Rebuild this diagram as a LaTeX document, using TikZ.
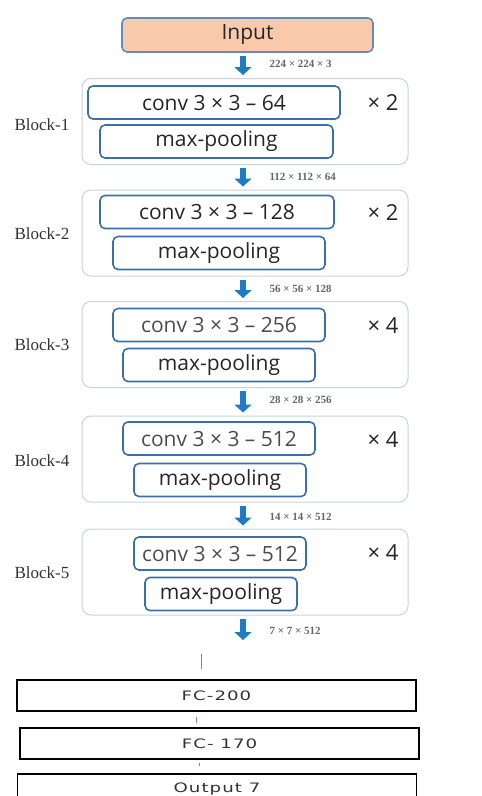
\documentclass[tikz,border=0pt]{standalone}
\usepackage{fontspec}
\setmainfont{Liberation Serif}
\setsansfont{Open Sans}
\newfontfamily\fcfont{DejaVu Sans}[FakeStretch=1.4, LetterSpace=8]
\usetikzlibrary{arrows.meta}

\definecolor{boxblue}{HTML}{3B6FA8}
\definecolor{blockgray}{HTML}{C8D2DE}
\definecolor{inputfill}{HTML}{F8C9AA}
\definecolor{arrowblue}{HTML}{1E7CC6}
\definecolor{linkblue}{HTML}{5B8FD0}

\tikzset{
  block/.style={draw=blockgray, line width=1pt, rounded corners=9pt,
    minimum width=326pt, minimum height=86pt},
  layer/.style={draw=boxblue, line width=1.6pt, rounded corners=5pt,
    inner sep=0pt, minimum height=33pt, text=black!85,
    font=\sffamily\fontsize{21}{21}\selectfont},
  flow/.style={arrowblue, line width=6pt, -{Triangle[width=17pt,length=8pt]}},
  dims/.style={anchor=west, text=black!60, font=\bfseries\fontsize{11}{11}\selectfont},
  reps/.style={text=black!85, font=\sffamily\fontsize{22}{22}\selectfont},
  blockname/.style={text=black!80, font=\fontsize{17}{17}\selectfont},
  fc/.style={draw=black, line width=1.6pt, minimum width=399pt,
    minimum height=31pt, text=black!80, font=\fcfont\fontsize{13}{13}\selectfont},
  link/.style={draw=linkblue, line width=0.8pt}
}

\begin{document}
\begin{tikzpicture}[x=1pt, y=-1pt]
  \useasboundingbox (0,0) rectangle (482,796);
  \clip (0,0) rectangle (482,796);

  \node[layer, fill=inputfill, draw=boxblue!80, minimum width=251pt, minimum height=34pt] (in) at (247.5,35) {Input};

  \node[block] (b1) at (245,121.5) {};
  \node[block] (b2) at (245,233) {};
  \node[block] (b3) at (245,344.5) {};
  \node[block] (b4) at (245,459) {};
  \node[block] (b5) at (245,572) {};

  \node[layer, minimum width=252pt] (c1) at (214,102.5) {conv 3 × 3 – 64};
  \node[layer, minimum width=233pt] (m1) at (216.5,141.5) {max-pooling};
  \node[layer, minimum width=234pt] (c2) at (217,212) {conv 3 × 3 – 128};
  \node[layer, minimum width=212pt] (m2) at (219,253) {max-pooling};
  \node[layer, minimum width=212pt, text=black!70] (c3) at (219,325) {conv 3 × 3 – 256};
  \node[layer, minimum width=192pt] (m3) at (219,365) {max-pooling};
  \node[layer, minimum width=192pt, text=black!70] (c4) at (219,438.5) {conv 3 × 3 – 512};
  \node[layer, minimum width=172pt] (m4) at (220,480) {max-pooling};
  \node[layer, minimum width=172pt, text=black!70] (c5) at (220,553.5) {conv 3 × 3 – 512};
  \node[layer, minimum width=152pt] (m5) at (221,594) {max-pooling};

  \node[reps] (r1) at (383,103) {× 2};
  \node[reps] (r2) at (383,213) {× 2};
  \node[reps] (r3) at (383,326) {× 4};
  \node[reps] (r4) at (383,440) {× 4};
  \node[reps] (r5) at (383,553) {× 4};

  \node[blockname] (n1) at (42,125) {Block-1};
  \node[blockname] (n2) at (42,234) {Block-2};
  \node[blockname] (n3) at (42,345) {Block-3};
  \node[blockname] (n4) at (42,461) {Block-4};
  \node[blockname] (n5) at (42,573) {Block-5};

  \coordinate (ax) at (243,0);
  \coordinate (out) at (243,640);
  \draw[flow] ([yshift=-3pt]in.south -| ax) -- ([yshift=3pt]b1.north -| ax);
  \draw[flow] ([yshift=-3pt]b1.south -| ax) -- ([yshift=3pt]b2.north -| ax);
  \draw[flow] ([yshift=-3pt]b2.south -| ax) -- ([yshift=3pt]b3.north -| ax);
  \draw[flow] ([yshift=-3pt]b3.south -| ax) -- ([yshift=3pt]b4.north -| ax);
  \draw[flow] ([yshift=-3pt]b4.south -| ax) -- ([yshift=3pt]b5.north -| ax);
  \draw[flow] ([yshift=-3pt]b5.south -| ax) -- (out);

  \node[dims] (d1) at (266,64) {224 × 224 × 3};
  \node[dims] (d2) at (266,177) {112 × 112 × 64};
  \node[dims] (d3) at (266,289) {56 × 56 × 128};
  \node[dims] (d4) at (266,400) {28 × 28 × 256};
  \node[dims] (d5) at (266,517) {14 × 14 × 512};
  \node[dims] (d6) at (266,631) {7 × 7 × 512};

  \node[fc] (fc1) at (216.5,695.5) {FC-200};
  \node[fc] (fc2) at (219.5,743.5) {FC- 170};
  \node[fc, minimum height=44pt, text depth=17pt] (fc3) at (217,796) {Output 7};

  \coordinate (l1) at (201,0);
  \coordinate (l2) at (196,0);
  \coordinate (l3) at (199,0);
  \draw[link] ([yshift=25pt]fc1.north -| l1) -- ([yshift=10pt]fc1.north -| l1);
  \draw[link] ([yshift=-5pt]fc1.south -| l2) -- ([yshift=4pt]fc2.north -| l2);
  \draw[link] ([yshift=-3pt]fc2.south -| l3) -- ([yshift=7pt]fc3.north -| l3);
\end{tikzpicture}
\end{document}
